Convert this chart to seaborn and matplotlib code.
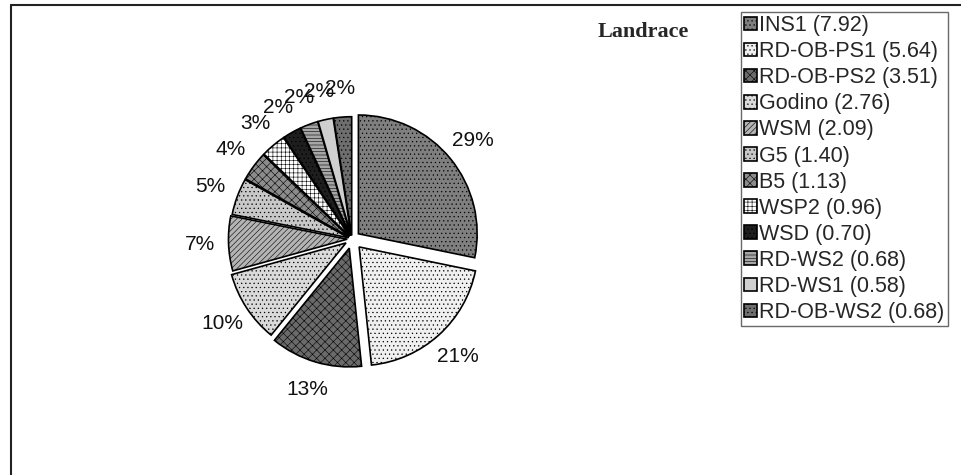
import matplotlib
matplotlib.use("Agg")
import matplotlib.pyplot as plt
import seaborn as sns
from matplotlib.lines import Line2D

# data
varieties = ["INS1", "RD-OB-PS1", "RD-OB-PS2", "Godino", "WSM", "G5",
             "B5", "WSP2", "WSD", "RD-WS2", "RD-WS1", "RD-OB-WS2"]
yields = [7.92, 5.64, 3.51, 2.76, 2.09, 1.40, 1.13, 0.96, 0.70, 0.68, 0.58, 0.68]
pct_labels = ["29%", "21%", "13%", "10%", "7%", "5%", "4%", "3%", "2%", "2%", "2%", "2%"]

# styling
explode = [0.07, 0.09, 0.08, 0.06, 0.04, 0.03, 0.03, 0.03, 0.03, 0.03, 0.03, 0.03]
fills = sns.color_palette(["#7f7f7f", "#f0f0f0", "#6a6a6a", "#dadada", "#b4b4b4", "#c8c8c8",
                           "#8c8c8c", "#ffffff", "#1e1e1e", "#a6a6a6", "#cfcfcf", "#6e6e6e"])
hatches = ["....", "....", "xxxx", "....", "//////", "....",
           "xxxx", "++++", "....", "-----", "", "...."]

sns.set_theme(style="white")
plt.rcParams["font.family"] = ["Liberation Sans", "DejaVu Sans"]
plt.rcParams["hatch.linewidth"] = 0.4
plt.rcParams["hatch.color"] = "black"

fig = plt.figure(figsize=(9.61, 4.75), dpi=100)
ax = fig.add_axes([0.1883, 0.1368, 0.3559, 0.72])

pct_iter = iter(pct_labels)
wedges, _, autotexts = ax.pie(
    yields, explode=explode, colors=fills, startangle=90, counterclock=False,
    autopct=lambda p: next(pct_iter), pctdistance=1.24,
    wedgeprops=dict(edgecolor="black", linewidth=1.2),
    textprops=dict(fontsize=15, color="#111111"),
)
for w, h in zip(wedges, hatches):
    w.set_hatch(h)
ax.set_xlim(-1.44, 1.44)
ax.set_ylim(-1.44, 1.44)
ax.set_aspect("equal")
ax.axis("off")

leg_labels = [f"{n} ({v:.2f})" for n, v in zip(varieties, yields)]
leg = fig.legend(wedges, leg_labels, loc="upper left",
                 bbox_to_anchor=(741 / 961, 1 - 12 / 475), frameon=True,
                 fancybox=False, edgecolor="#444444", fontsize=15.5,
                 handlelength=0.58, handleheight=0.58, handletextpad=0.12,
                 labelspacing=0.235, borderpad=0.15, borderaxespad=0)
leg.get_frame().set_linewidth(1.0)

fig.text(643 / 961, 1 - 32 / 475, "Landrace", fontfamily="Liberation Serif",
         fontweight="bold", fontsize=16, ha="center", va="center")

# chart area border (top and left edges visible)
fig.add_artist(Line2D([11 / 961, 1], [1 - 5 / 475, 1 - 5 / 475], color="#222222", lw=1.5))
fig.add_artist(Line2D([11 / 961, 11 / 961], [0, 1 - 5 / 475], color="#222222", lw=1.5))

fig.savefig("out.png", dpi=100)
